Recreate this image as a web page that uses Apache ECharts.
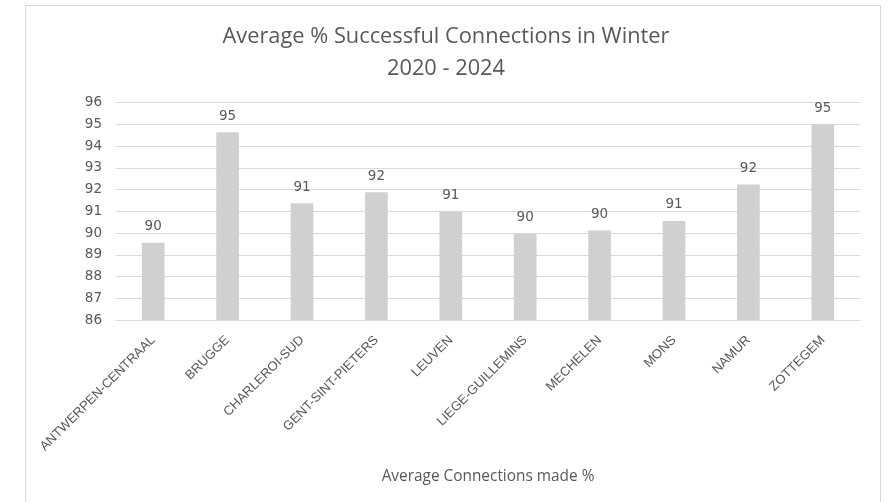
<!DOCTYPE html>
<html>
<head>
<meta charset="utf-8">
<script src="https://cdn.jsdelivr.net/npm/echarts@6/dist/echarts.min.js"></script>
<style>
  html, body { margin: 0; padding: 0; background: #fff; }
  #chart { width: 892px; height: 502px; }
</style>
</head>
<body>
<div id="chart"></div>
<script>
// Stations and their average share of successful connections (winter 2020-2024)
const stations = [
  'ANTWERPEN-CENTRAAL', 'BRUGGE', 'CHARLEROI-SUD', 'GENT-SINT-PIETERS', 'LEUVEN',
  'LIEGE-GUILLEMINS', 'MECHELEN', 'MONS', 'NAMUR', 'ZOTTEGEM'
];
const connectionPct = [89.55, 94.64, 91.37, 91.88, 90.98, 89.97, 90.12, 90.56, 92.23, 95.0];
const yMin = 86;
const yMax = 96;
const yStep = 1;

const chart = echarts.init(document.getElementById('chart'), null, { renderer: 'canvas' });
const textGray = '#595959';

chart.setOption({
  backgroundColor: '#ffffff',
  animation: false,
  graphic: [{
    type: 'rect',
    shape: { x: 25.5, y: 5.5, width: 855, height: 520 },
    style: { fill: 'none', stroke: '#d9d9d9', lineWidth: 1 },
    silent: true,
    z: -1
  }],
  title: {
    text: 'Average % Successful Connections in Winter\n2020 - 2024',
    left: 'center',
    top: 16,
    textStyle: {
      fontFamily: 'Open Sans',
      fontSize: 21.8,
      fontWeight: 'normal',
      color: textGray,
      lineHeight: 32
    }
  },
  grid: { left: 116, right: 32, top: 102.7, bottom: 182 },
  xAxis: {
    type: 'category',
    data: stations,
    name: 'Average Connections made %',
    nameLocation: 'middle',
    nameGap: 149,
    nameTextStyle: { fontFamily: 'Open Sans', fontSize: 15.4, color: textGray },
    axisLine: { show: true, lineStyle: { color: '#d9d9d9', width: 1 } },
    axisTick: { show: false },
    axisLabel: {
      rotate: 45,
      interval: 0,
      margin: 18,
      fontFamily: 'Liberation Sans',
      fontSize: 13,
      color: textGray
    }
  },
  yAxis: {
    type: 'value',
    min: yMin,
    max: yMax,
    interval: yStep,
    axisLine: { show: false },
    axisTick: { show: false },
    axisLabel: { fontFamily: 'DejaVu Sans', fontSize: 13.5, color: textGray, margin: 14 },
    splitLine: { lineStyle: { color: '#d9d9d9', width: 1 } }
  },
  series: [{
    type: 'bar',
    data: connectionPct,
    barWidth: '30.5%',
    itemStyle: { color: '#d0d0d0' },
    label: {
      show: true,
      position: 'top',
      distance: 9,
      fontFamily: 'DejaVu Sans',
      fontSize: 13.5,
      color: textGray,
      formatter: p => Math.round(p.value)
    }
  }]
});
</script>
</body>
</html>
